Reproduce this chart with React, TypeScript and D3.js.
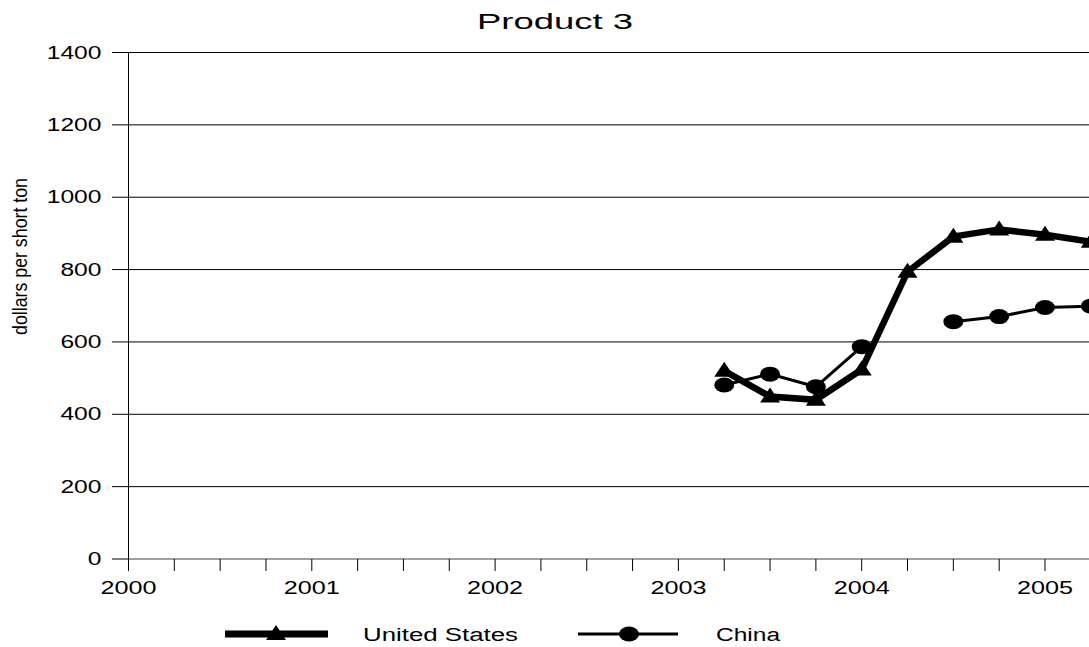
import React from "react";
import * as d3 from "d3";

const quarters = [2003.25, 2003.5, 2003.75, 2004.0, 2004.25, 2004.5, 2004.75, 2005.0, 2005.25];
const usValues = [520, 449, 440, 524, 794, 891, 911, 896, 877];
const chinaValues: (number | null)[] = [481, 511, 476, 587, null, 656, 670, 695, 699];
const yTicks = [0, 200, 400, 600, 800, 1000, 1200, 1400];
const yearTicks = [2000, 2001, 2002, 2003, 2004, 2005];
const seriesNames = ["United States", "China"];

const W = 1089, H = 647;
const left = 128.5, top = 52.5, bottom = 559;
const x = d3.scaleLinear().domain([2000, 2005]).range([left, left + 5 * 183.3]);
const y = d3.scaleLinear().domain([0, 1400]).range([bottom, top]);
const font = "'Liberation Sans', Arial, sans-serif";

function tri(cx: number, cy: number, w = 20, h = 15) {
  return `M${cx},${cy - h * 0.6}L${cx + w / 2},${cy + h * 0.4}L${cx - w / 2},${cy + h * 0.4}Z`;
}

export default function App() {
  const usData = quarters.map((q, i) => [q, usValues[i]] as [number, number]);
  const cnData = quarters.map((q, i) => [q, chinaValues[i]] as [number, number | null]);
  const line = d3.line<[number, number]>().x(d => x(d[0])).y(d => y(d[1]));
  const lineCn = d3.line<[number, number | null]>()
    .defined(d => d[1] != null)
    .x(d => x(d[0])).y(d => y(d[1] as number));
  const qTicks = d3.range(0, 21).map(i => 2000 + i * 0.25);
  const digitW = 13.7;
  return (
    <svg width={W} height={H} style={{ position: "absolute", left: 0, top: 0, background: "#fff" }}>
      <defs>
        <clipPath id="pc"><rect x={0} y={0} width={W} height={H} /></clipPath>
      </defs>
      <text x={477} y={29} fontFamily={font} fontSize={21.5} textLength={156} lengthAdjust="spacingAndGlyphs">Product 3</text>
      {yTicks.map(t => {
        const s = String(t);
        return (
          <g key={t}>
            {t > 0 && <line x1={left} x2={W} y1={y(t)} y2={y(t)} stroke="#000" strokeWidth={1} />}
            <line x1={112} x2={left} y1={y(t)} y2={y(t)} stroke="#000" strokeWidth={1} />
            <text x={101.5 - s.length * digitW} y={y(t) + 6} fontFamily={font} fontSize={18}
              textLength={s.length * digitW} lengthAdjust="spacingAndGlyphs">{s}</text>
          </g>
        );
      })}
      <line x1={left} x2={left} y1={top} y2={bottom} stroke="#000" strokeWidth={1} />
      <line x1={left} x2={W} y1={bottom} y2={bottom} stroke="#808080" strokeWidth={1.5} />
      {qTicks.map(q => (
        <line key={q} x1={x(q)} x2={x(q)} y1={bottom} y2={571} stroke="#000" strokeWidth={1} />
      ))}
      {yearTicks.map(t => (
        <text key={t} x={x(t) - 28} y={594} fontFamily={font} fontSize={18}
          textLength={56} lengthAdjust="spacingAndGlyphs">{t}</text>
      ))}
      <text transform={`translate(27,256.5) rotate(-90)`} textAnchor="middle" fontFamily={font} fontSize={20}
        textLength={157} lengthAdjust="spacingAndGlyphs">dollars per short ton</text>
      <g clipPath="url(#pc)">
        <path d={lineCn(cnData) || ""} fill="none" stroke="#000" strokeWidth={3} />
        {cnData.filter(d => d[1] != null).map(d => (
          <ellipse key={d[0]} cx={x(d[0])} cy={y(d[1] as number)} rx={10} ry={7.5} fill="#000" />
        ))}
        <path d={line(usData) || ""} fill="none" stroke="#000" strokeWidth={6.5} strokeLinejoin="miter" />
        {usData.map(d => (
          <path key={d[0]} d={tri(x(d[0]), y(d[1]))} fill="#000" />
        ))}
      </g>
      <g>
        <line x1={225} x2={328} y1={634} y2={634} stroke="#000" strokeWidth={7} />
        <path d={tri(276, 634)} fill="#000" />
        <text x={363} y={641} fontFamily={font} fontSize={18} textLength={155} lengthAdjust="spacingAndGlyphs">{seriesNames[0]}</text>
        <line x1={578} x2={678} y1={634} y2={634} stroke="#000" strokeWidth={3} />
        <ellipse cx={629} cy={634} rx={10} ry={7.5} fill="#000" />
        <text x={716} y={641} fontFamily={font} fontSize={18} textLength={64} lengthAdjust="spacingAndGlyphs">{seriesNames[1]}</text>
      </g>
    </svg>
  );
}
